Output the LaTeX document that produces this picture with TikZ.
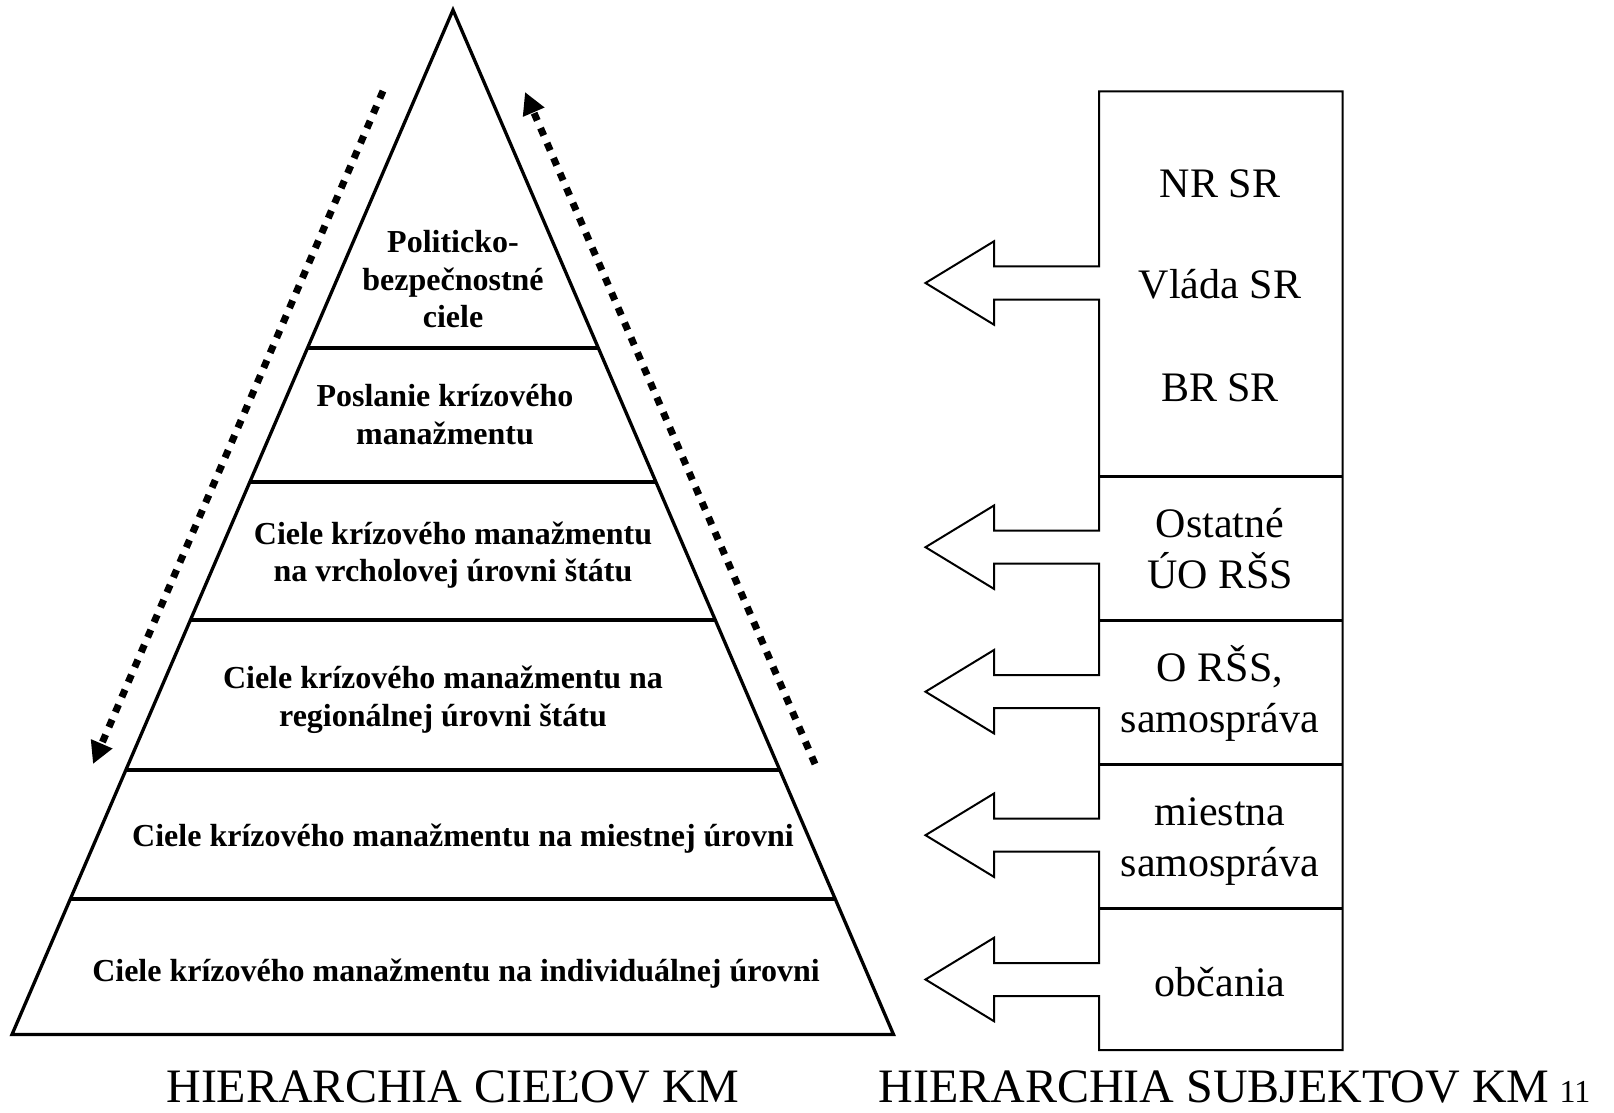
\documentclass[tikz,border=0pt]{standalone}
\usepackage{fontspec}
\setmainfont{Liberation Serif}
\usetikzlibrary{arrows.meta,calc}
\begin{document}
\begin{tikzpicture}[x=0.5pt,y=-0.5pt,
  pyr/.style={line width=1.65pt,line join=miter},
  pyrdiv/.style={line width=2.25pt},
  lvl/.style={font=\fontsize{16}{18.6}\selectfont\bfseries,align=center,inner sep=0pt,anchor=base},
  subj/.style={font=\fontsize{21}{25.5}\selectfont,align=center,inner sep=0pt,anchor=base},
  ttl/.style={font=\fontsize{24}{28}\selectfont,inner sep=0pt,anchor=base,text depth=0pt},
  pagenum/.style={font=\fontsize{16}{18}\selectfont,inner sep=0pt,anchor=base,text depth=0pt},
  boxline/.style={line width=1pt,line join=miter},
  boxdiv/.style={line width=1.5pt},
  flow/.style={line width=3.5pt,dash pattern=on 4pt off 4.15pt,-{Triangle[length=11pt,width=11pt]}},
]
\useasboundingbox (0,0) rectangle (1614,1113);
% pyramid
\coordinate (apex) at (453,10);
\coordinate (bl) at (12,1034.5);
\coordinate (br) at (893.5,1034.5);
\draw[pyr] (apex) -- (bl) -- (br) -- cycle;
\foreach \t/\n in {0.3299/1,0.4607/2,0.5954/3,0.7418/4,0.8677/5}
  \draw[pyrdiv] ($(apex)!\t!(bl)$) coordinate (dl\n) -- ($(apex)!\t!(br)$) coordinate (dr\n);
% (anchor base = baseline of the last line)
\node[lvl] (goal1) at (453,327.3) {Politicko-\\bezpečnostné\\ciele};
\node[lvl] (goal2) at (445,444) {Poslanie krízového\\manažmentu};
\node[lvl] (goal3) at (453,581.7) {Ciele krízového manažmentu\\na vrcholovej úrovni štátu};
\node[lvl] (goal4) at (443,726) {Ciele krízového manažmentu na\\regionálnej úrovni štátu};
\node[lvl] (goal5) at (463,846) {Ciele krízového manažmentu na miestnej úrovni};
\node[lvl] (goal6) at (456,981) {Ciele krízového manažmentu na individuálnej úrovni};
% dotted flows
\coordinate (downS) at (383,91);
\coordinate (downE) at (93,764);
\draw[flow] (downS) -- (downE);
\coordinate (upS) at (815,764);
\coordinate (upE) at (525,92);
\draw[flow] (upS) -- (upE);
% subjects column with arrows
\draw[boxline] (1099,91.5) -- (1342.5,91.5) -- (1342.5,1050) -- (1099,1050)
  \foreach \c in {979.5,835.2,691.7,547.2,283} { -- (1099,{\c+16.5}) -- (994,{\c+16.5}) -- (994,{\c+41.7}) -- (925.5,\c) -- (994,{\c-41.7}) -- (994,{\c-16.5}) -- (1099,{\c-16.5}) } -- cycle;
\foreach \y in {476,620,764,908}
  \draw[boxdiv] (1099,\y) -- (1342.5,\y);
\node[subj] (nrsr) at (1220,197.3) {NR SR};
\node[subj] (vlada) at (1220,298.3) {Vláda SR};
\node[subj] (brsr) at (1220,401.7) {BR SR};
\node[subj] (uo) at (1220,588.3) {Ostatné\\ÚO RŠS};
\node[subj] (orss) at (1220,732.7) {O RŠS,\\samospráva};
\node[subj] (miest) at (1220,876) {miestna\\samospráva};
\node[subj] (obc) at (1220,996) {občania};
% titles
\node[ttl] (t1) at (453,1102) {HIERARCHIA CIEĽOV KM};
\node[ttl] (t2) at (1214,1102) {HIERARCHIA SUBJEKTOV KM};
\node[pagenum] (pg) at (1575,1102) {11};
\end{tikzpicture}
\end{document}
